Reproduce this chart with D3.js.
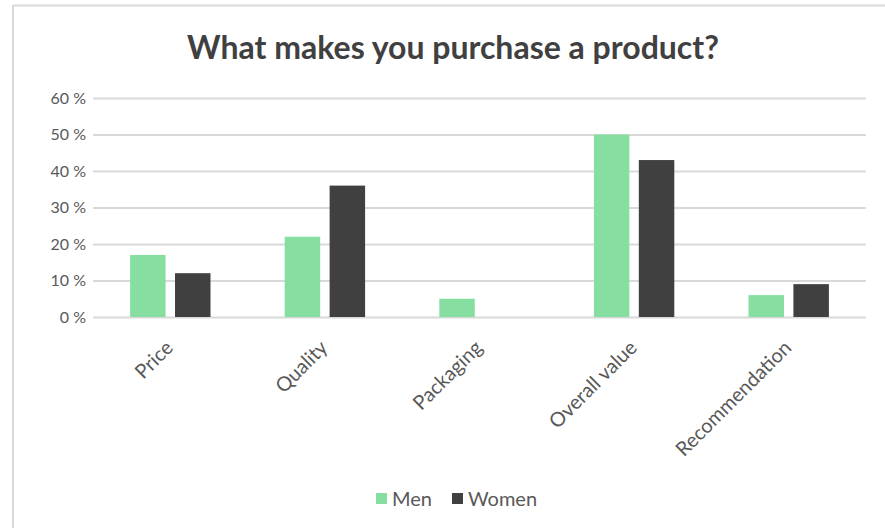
<!DOCTYPE html>
<html>
<head>
<meta charset="utf-8">
<script src="https://cdn.jsdelivr.net/npm/d3@7"></script>
<style>
  html, body { margin: 0; padding: 0; background: #fff; }
  svg { display: block; }
</style>
</head>
<body>
<div id="chart"></div>
<script>
// survey answers, share of respondents
const categories = ['Price', 'Quality', 'Packaging', 'Overall value', 'Recommendation'];
const seriesNames = ['Men', 'Women'];
const menValues = [0.17, 0.22, 0.05, 0.50, 0.06];
const womenValues = [0.12, 0.36, 0.00, 0.43, 0.09];
const yTicks = [0, 0.1, 0.2, 0.3, 0.4, 0.5, 0.6];

const colors = {Men: '#86dfa1', Women: '#404040'};
const width = 885;
const height = 528;
const font = 'Lato, "Open Sans", sans-serif';

const svg = d3.select('#chart').append('svg')
    .attr('width', width)
    .attr('height', height);

svg.append('rect').attr('width', width).attr('height', height).attr('fill', '#fff');

// chart frame, only top and left edges show in the picture
svg.append('line').attr('x1', 13).attr('x2', width).attr('y1', 5.5).attr('y2', 5.5)
    .attr('stroke', '#d9d9d9').attr('stroke-width', 2);
svg.append('line').attr('x1', 13).attr('x2', 13).attr('y1', 5).attr('y2', height)
    .attr('stroke', '#d9d9d9').attr('stroke-width', 2);

svg.append('text')
    .attr('x', 453)
    .attr('y', 59)
    .attr('text-anchor', 'middle')
    .attr('font-family', font)
    .attr('font-weight', 'bold')
    .attr('font-size', 32)
    .attr('fill', '#404040')
    .text('What makes you purchase a product?');

const plot = {left: 93, right: 866, top: 98, bottom: 317};

const x0 = d3.scaleBand()
    .domain(categories)
    .range([plot.left, plot.right])
    .paddingInner(0.48)
    .paddingOuter(0.24);

const x1 = d3.scaleBand()
    .domain(seriesNames)
    .range([0, x0.bandwidth()])
    .paddingInner(0.21);

const y = d3.scaleLinear()
    .domain([0, 0.6])
    .range([plot.bottom, plot.top]);

// gridlines + y labels
const yAxis = d3.axisLeft(y)
    .tickValues(yTicks)
    .tickSize(plot.left - plot.right)
    .tickPadding(7)
    .tickFormat((d) => Math.round(d * 100) + '\u00a0%');

const gy = svg.append('g')
    .attr('transform', `translate(${plot.left},0)`)
    .call(yAxis);
gy.select('.domain').remove();
gy.selectAll('.tick line').attr('stroke', '#d9d9d9').attr('stroke-width', 2);
gy.selectAll('.tick text')
    .attr('font-family', font)
    .attr('font-size', 16)
    .attr('fill', '#595959');

// bars
const rows = categories.map((c, i) => ({
  category: c,
  values: [{key: 'Men', value: menValues[i]}, {key: 'Women', value: womenValues[i]}],
}));

svg.append('g').selectAll('g')
    .data(rows)
    .join('g')
    .attr('transform', (d) => `translate(${x0(d.category)},0)`)
    .selectAll('rect')
    .data((d) => d.values)
    .join('rect')
    .attr('x', (d) => x1(d.key))
    .attr('y', (d) => y(d.value))
    .attr('width', x1.bandwidth())
    .attr('height', (d) => y(0) - y(d.value))
    .attr('fill', (d) => colors[d.key]);

// x axis labels, rotated
const xAxis = d3.axisBottom(x0).tickSize(0).tickPadding(0);
const gx = svg.append('g')
    .attr('transform', `translate(0,${plot.bottom})`)
    .call(xAxis);
gx.select('.domain').remove();
gx.selectAll('.tick text')
    .attr('font-family', font)
    .attr('font-size', 20)
    .attr('fill', '#595959')
    .attr('text-anchor', 'end')
    .attr('dy', null)
    .attr('y', 0)
    .attr('transform', 'translate(4,32) rotate(-45)');

// legend
const legend = svg.append('g').attr('font-family', font).attr('font-size', 20);
const legendX = {Men: 376, Women: 452};
seriesNames.forEach((name) => {
  const g = legend.append('g').attr('transform', `translate(${legendX[name]},493)`);
  g.append('rect').attr('width', 11).attr('height', 11).attr('fill', colors[name]);
  g.append('text').attr('x', 16).attr('y', 13).attr('fill', '#595959').text(name);
});
</script>
</body>
</html>
